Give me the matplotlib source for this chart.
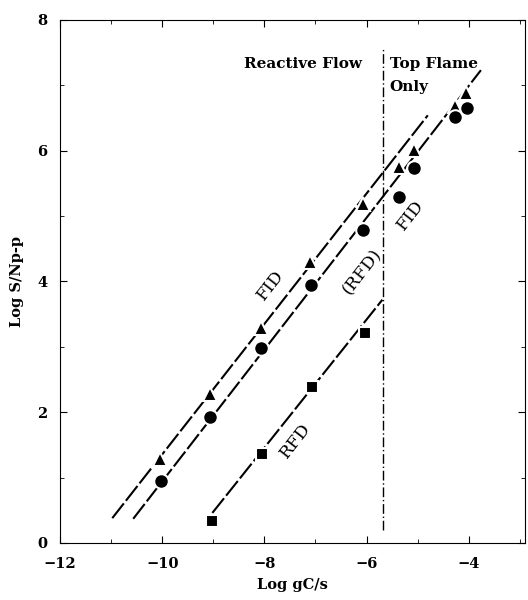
import matplotlib.pyplot as plt
from matplotlib.ticker import MultipleLocator

# data
tri_x = [-10.05, -9.06, -8.06, -7.1, -6.06, -5.37, -5.08, -4.27, -4.06]
tri_y = [1.28, 2.28, 3.29, 4.30, 5.18, 5.75, 6.01, 6.68, 6.88]

circ_x = [-10.02, -9.06, -8.06, -7.08, -6.06, -5.37, -5.08, -4.27, -4.04]
circ_y = [0.95, 1.93, 2.98, 3.94, 4.79, 5.29, 5.73, 6.51, 6.65]

sq_x = [-9.02, -8.04, -7.06, -6.04]
sq_y = [0.34, 1.36, 2.38, 3.21]

# fitted lines (end points)
fid_line_x = [-10.98, -4.8]
fid_line_y = [0.38, 6.54]
circ_line_x = [-10.57, -3.76]
circ_line_y = [0.37, 7.23]
rfd_line_x = [-9.02, -5.69]
rfd_line_y = [0.46, 3.72]

split_x = -5.68

serif = "DejaVu Serif"

fig = plt.figure(figsize=(5.28, 6), dpi=100)
ax = fig.add_axes([0.114, 0.095, 0.88, 0.872])

dash = (9, 1.6)
ax.plot(fid_line_x, fid_line_y, color="black", lw=1.5, dashes=dash)
ax.plot(circ_line_x, circ_line_y, color="black", lw=1.5, dashes=dash)
ax.plot(rfd_line_x, rfd_line_y, color="black", lw=1.5, dashes=dash)

ax.plot([split_x, split_x], [0.2, 7.55], color="black", lw=1,
        dashes=(7, 2, 1, 2))

ax.plot(tri_x, tri_y, "^", color="black", ms=10, mec="white", mew=1.5)
ax.plot(circ_x, circ_y, "o", color="black", ms=10.5, mec="white", mew=1.5)
ax.plot(sq_x, sq_y, "s", color="black", ms=8.5, mec="white", mew=1.5)

ax.text(-7.25, 7.33, "Reactive Flow", fontsize=11, fontweight="bold",
        family=serif, ha="center", va="center")
ax.text(-5.55, 7.33, "Top Flame", fontsize=11, fontweight="bold",
        family=serif, ha="left", va="center")
ax.text(-5.55, 6.97, "Only", fontsize=11, fontweight="bold",
        family=serif, ha="left", va="center")

ax.text(-7.88, 3.94, "FID", fontsize=12.5, family=serif, rotation=52,
        ha="center", va="center")
ax.text(-6.08, 4.14, "(RFD)", fontsize=12.5, family=serif, rotation=52,
        ha="center", va="center")
ax.text(-5.14, 5.02, "FID", fontsize=12.5, family=serif, rotation=52,
        ha="center", va="center")
ax.text(-7.39, 1.57, "RFD", fontsize=12.5, family=serif, rotation=52,
        ha="center", va="center")

ax.set_xlim(-12, -2.9)
ax.set_ylim(0, 8)
ax.xaxis.set_major_locator(MultipleLocator(2))
ax.xaxis.set_minor_locator(MultipleLocator(1))
ax.yaxis.set_major_locator(MultipleLocator(2))
ax.yaxis.set_minor_locator(MultipleLocator(1))
ax.tick_params(which="both", direction="in", top=True, right=True)
ax.tick_params(which="major", length=5, labelsize=10.5)
ax.tick_params(which="minor", length=3)
ax.tick_params(axis="x", pad=10)
ax.tick_params(axis="y", pad=9)
for lab in ax.get_xticklabels() + ax.get_yticklabels():
    lab.set_family(serif)
    lab.set_fontweight("bold")

ax.set_xlabel("Log gC/s", family=serif, fontweight="bold", fontsize=10.5,
              labelpad=5)
ax.set_ylabel("Log S/Np-p", family=serif, fontweight="bold", fontsize=10.5,
              labelpad=10)

plt.savefig("out.png", dpi=100)
plt.close()
